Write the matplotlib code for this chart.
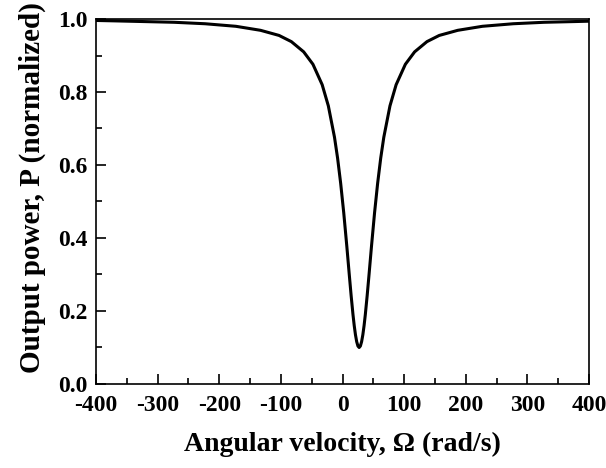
import matplotlib
matplotlib.use("Agg")
import matplotlib.pyplot as plt
from matplotlib.ticker import MultipleLocator

# Values
omega = [-400, -373, -323, -273, -223, -173, -133, -103, -83, -63, -48, -33, -23,
         -13, -8, -3, 2, 7, 11, 14, 17, 19, 21, 23, 25, 27, 29, 31, 33, 35, 37,
         40, 43, 47, 52, 57, 62, 67, 77, 87, 102, 117, 137, 157, 187, 227, 277,
         327, 377, 400]
power = [0.996, 0.995, 0.993, 0.991, 0.987, 0.980, 0.969, 0.955, 0.938, 0.910,
         0.876, 0.820, 0.762, 0.676, 0.619, 0.550, 0.469, 0.377, 0.299, 0.242,
         0.190, 0.160, 0.135, 0.116, 0.104, 0.100, 0.104, 0.116, 0.135, 0.160,
         0.190, 0.242, 0.299, 0.377, 0.469, 0.550, 0.619, 0.676, 0.762, 0.820,
         0.876, 0.910, 0.938, 0.955, 0.969, 0.980, 0.987, 0.991, 0.993, 0.994]

x_ticks = [-400, -300, -200, -100, 0, 100, 200, 300, 400]
y_ticks = [0.0, 0.2, 0.4, 0.6, 0.8, 1.0]

plt.rcParams['font.family'] = ['Liberation Serif', 'DejaVu Serif']
plt.rcParams['font.weight'] = 'bold'

fig = plt.figure(figsize=(6.06, 4.68), dpi=100)
ax = fig.add_axes([0.1584, 0.1795, 0.8136, 0.7799])

ax.plot(omega, power, color='black', lw=2.2, solid_joinstyle='round')

ax.set_xlim(-400, 400)
ax.set_ylim(0.0, 1.0)
ax.set_xticks(x_ticks)
ax.set_xticklabels([str(v) for v in x_ticks])
ax.set_yticks(y_ticks)
ax.set_yticklabels([f"{v:.1f}" for v in y_ticks])
ax.xaxis.set_minor_locator(MultipleLocator(50))
ax.yaxis.set_minor_locator(MultipleLocator(0.1))

ax.tick_params(which='both', direction='in', top=False, right=False, width=1.2,
               labelsize=17)
ax.tick_params(axis='x', which='both', pad=8)
ax.tick_params(axis='y', which='both', pad=6)
ax.tick_params(which='major', length=7)
ax.tick_params(which='minor', length=4)
for lab in ax.get_xticklabels() + ax.get_yticklabels():
    lab.set_fontweight('bold')

for sp in ax.spines.values():
    sp.set_linewidth(1.2)

ax.set_xlabel('Angular velocity, Ω (rad/s)', fontsize=20, fontweight='bold', labelpad=11)
ax.set_ylabel('Output power, P (normalized)', fontsize=21, fontweight='bold', labelpad=9)
ax.yaxis.label.set_y(0.537)

fig.savefig('out.png', dpi=100)
